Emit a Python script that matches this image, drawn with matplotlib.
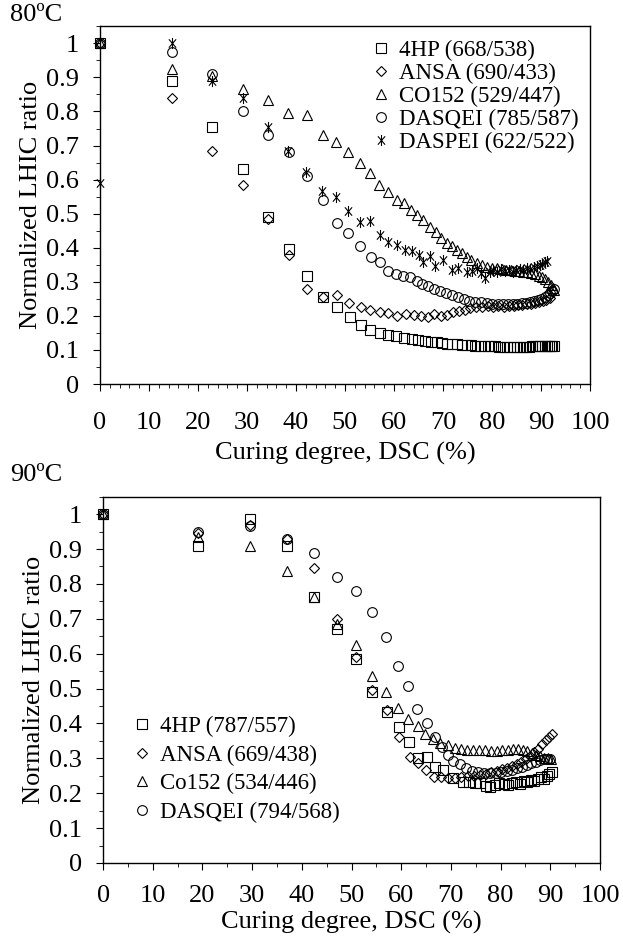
import numpy as np
import matplotlib
matplotlib.use("Agg")
import matplotlib.pyplot as plt
from matplotlib.path import Path
from matplotlib.ticker import MultipleLocator

plt.rcParams['font.family'] = ['Liberation Serif', 'DejaVu Serif']

# ---- 80 C panel data ----
hp80_x = [0, 14.7, 22.9, 29.2, 34.2, 38.5, 42.2, 45.6, 48.3, 51.0,
          53.2, 55.2, 57.1, 58.8, 60.5, 62.1, 63.6, 65.0, 66.3, 67.5,
          68.7, 69.8, 70.9, 71.9, 72.9, 73.9, 74.8, 75.7, 76.6, 77.5,
          78.3, 79.1, 79.9, 80.7, 81.5, 82.3, 83.0, 83.7, 84.4, 85.1,
          85.8, 86.4, 87.0, 87.6, 88.2, 88.8, 89.3, 89.8, 90.3, 90.8,
          91.2, 91.6, 92.0, 92.3, 92.6]
hp80_y = [1.0, 0.89, 0.755, 0.63, 0.49, 0.395, 0.318, 0.256, 0.226, 0.197,
          0.174, 0.16, 0.15, 0.145, 0.14, 0.136, 0.132, 0.129, 0.126, 0.124,
          0.122, 0.12, 0.119, 0.118, 0.117, 0.116, 0.115, 0.114, 0.113, 0.113,
          0.112, 0.112, 0.111, 0.111, 0.11, 0.11, 0.11, 0.11, 0.11, 0.11,
          0.11, 0.11, 0.11, 0.11, 0.111, 0.111, 0.111, 0.112, 0.112, 0.112,
          0.113, 0.113, 0.113, 0.113, 0.113]

ansa80_x = [0, 14.7, 22.9, 29.2, 34.2, 38.5, 42.2, 45.6, 48.4, 50.9,
            53.2, 55.2, 57.1, 58.8, 60.6, 62.4, 64.0, 65.5, 66.9, 68.2,
            69.5, 70.8, 72.0, 73.2, 74.4, 75.6, 76.8, 78.0, 79.1, 80.2,
            81.3, 82.4, 83.4, 84.4, 85.3, 86.2, 87.1, 88.0, 88.8, 89.6,
            90.4, 91.1, 91.8]
ansa80_y = [1.0, 0.84, 0.685, 0.585, 0.485, 0.38, 0.28, 0.256, 0.26, 0.237,
            0.226, 0.218, 0.211, 0.208, 0.199, 0.207, 0.203, 0.2, 0.198, 0.205,
            0.2, 0.204, 0.21, 0.213, 0.218, 0.222, 0.226, 0.225, 0.228, 0.226,
            0.228, 0.227, 0.23, 0.229, 0.232, 0.231, 0.234, 0.236, 0.238, 0.241,
            0.244, 0.248, 0.252]

co80_x = [0, 14.7, 22.9, 29.2, 34.3, 38.4, 42.3, 45.5, 48.2, 50.6,
          53.0, 55.1, 56.9, 58.8, 60.6, 62.0, 63.4, 64.7, 66.0, 67.3,
          68.5, 69.6, 70.8, 71.8, 72.8, 73.8, 74.8, 75.8, 76.9, 78.0,
          79.0, 80.0, 81.0, 82.0, 82.9, 83.8, 84.7, 85.6, 86.4, 87.2,
          88.0, 88.8, 89.5, 90.2, 90.9, 91.5, 92.0, 92.4, 92.6]
co80_y = [1.0, 0.926, 0.905, 0.866, 0.835, 0.795, 0.79, 0.73, 0.71, 0.68,
          0.65, 0.62, 0.585, 0.565, 0.54, 0.53, 0.512, 0.497, 0.482, 0.462,
          0.445, 0.43, 0.414, 0.404, 0.394, 0.384, 0.374, 0.364, 0.356, 0.35,
          0.345, 0.342, 0.34, 0.338, 0.336, 0.334, 0.333, 0.332, 0.33, 0.328,
          0.325, 0.322, 0.318, 0.313, 0.307, 0.3, 0.292, 0.283, 0.275]

qei80_x = [0, 14.7, 22.9, 29.2, 34.2, 38.5, 42.2, 45.5, 48.4, 50.7,
           53.1, 55.3, 57.1, 58.8, 60.5, 61.9, 63.3, 64.6, 65.8, 67.0,
           68.2, 69.4, 70.6, 71.8, 73.0, 74.2, 75.4, 76.6, 77.8, 79.0,
           80.1, 81.2, 82.3, 83.3, 84.3, 85.2, 86.1, 87.0, 87.8, 88.6,
           89.4, 90.1, 90.8, 91.4, 91.9, 92.3, 92.6]
qei80_y = [1.0, 0.975, 0.91, 0.80, 0.73, 0.68, 0.61, 0.54, 0.474, 0.442,
           0.406, 0.374, 0.357, 0.332, 0.323, 0.318, 0.313, 0.303, 0.295, 0.288,
           0.28, 0.274, 0.268, 0.262, 0.256, 0.25, 0.245, 0.242, 0.24, 0.237,
           0.236, 0.235, 0.235, 0.234, 0.235, 0.236, 0.237, 0.239, 0.241, 0.243,
           0.246, 0.25, 0.255, 0.26, 0.266, 0.272, 0.278]

pei80_x = [0, 14.7, 22.9, 29.2, 34.3, 38.4, 42.1, 45.4, 48.1, 50.7,
           53.1, 55.2, 57.1, 58.8, 60.6, 62.2, 63.6, 65.2, 65.9, 67.3,
           68.4, 70.0, 71.8, 73.0, 74.9, 76.0, 76.9, 77.8, 78.6, 79.5,
           80.3, 81.1, 81.9, 82.7, 83.5, 84.3, 85.0, 85.7, 86.4, 87.1,
           87.8, 88.5, 89.1, 89.7, 90.3, 90.8, 91.3]
pei80_y = [0.59, 1.0, 0.89, 0.84, 0.755, 0.685, 0.623, 0.568, 0.549, 0.509,
           0.477, 0.479, 0.438, 0.418, 0.409, 0.394, 0.39, 0.378, 0.358, 0.377,
           0.347, 0.365, 0.335, 0.34, 0.33, 0.333, 0.34, 0.325, 0.31, 0.33,
           0.335, 0.328, 0.338, 0.332, 0.336, 0.33, 0.334, 0.338, 0.335, 0.34,
           0.338, 0.343, 0.346, 0.35, 0.353, 0.357, 0.362]

# ---- 90 C panel data ----
hp90_x = [0, 19.1, 29.6, 37.0, 42.5, 47.1, 50.9, 54.2, 57.1, 59.6,
          61.5, 63.4, 65.2, 66.8, 68.4, 70.4, 72.4, 73.6, 74.8, 75.9,
          77.0, 77.9, 78.8, 79.7, 80.6, 81.5, 82.3, 83.1, 83.9, 84.7,
          85.4, 86.1, 86.8, 87.5, 88.1, 88.7, 89.3, 89.8, 90.3]
hp90_y = [1.0, 0.908, 0.985, 0.908, 0.763, 0.67, 0.586, 0.49, 0.432, 0.389,
          0.346, 0.302, 0.305, 0.276, 0.267, 0.244, 0.233, 0.232, 0.23, 0.228,
          0.222, 0.218, 0.224, 0.23, 0.226, 0.223, 0.228, 0.232, 0.227, 0.235,
          0.232, 0.238, 0.236, 0.24, 0.245, 0.242, 0.25, 0.255, 0.262]

ansa90_x = [0, 19.1, 29.6, 37.0, 42.5, 47.1, 50.9, 54.2, 57.1, 59.5,
            61.8, 63.4, 65.0, 66.6, 68.0, 69.4, 70.8, 72.1, 73.4, 74.6,
            75.8, 77.0, 78.1, 79.2, 80.3, 81.3, 82.3, 83.3, 84.2, 85.1,
            86.0, 86.8, 87.6, 88.4, 89.1, 89.8, 90.4]
ansa90_y = [1.0, 0.945, 0.97, 0.928, 0.846, 0.698, 0.59, 0.495, 0.438, 0.362,
            0.305, 0.287, 0.267, 0.247, 0.245, 0.243, 0.244, 0.246, 0.248, 0.25,
            0.253, 0.256, 0.26, 0.264, 0.268, 0.272, 0.277, 0.283, 0.29, 0.298,
            0.307, 0.317, 0.328, 0.34, 0.352, 0.362, 0.37]

co90_x = [0, 19.1, 29.6, 37.0, 42.5, 47.1, 50.9, 54.2, 57.0, 59.4,
          61.4, 63.3, 64.8, 66.4, 67.8, 69.4, 70.8, 72.0, 73.2, 74.4,
          75.6, 76.8, 78.0, 79.2, 80.3, 81.4, 82.5, 83.5, 84.5, 85.4,
          86.3, 87.2, 88.0, 88.8, 89.5, 90.1]
co90_y = [1.0, 0.935, 0.908, 0.836, 0.763, 0.684, 0.624, 0.537, 0.489, 0.444,
          0.412, 0.394, 0.37, 0.355, 0.345, 0.339, 0.33, 0.326, 0.325, 0.324,
          0.323, 0.323, 0.322, 0.322, 0.323, 0.324, 0.326, 0.328, 0.325, 0.32,
          0.315, 0.31, 0.306, 0.302, 0.3, 0.298]

qei90_x = [0, 19.1, 29.6, 37.0, 42.5, 47.1, 50.9, 54.2, 56.9, 59.4,
           61.4, 63.2, 65.1, 66.7, 68.2, 69.4, 70.4, 71.8, 73.0, 74.2,
           75.4, 76.6, 77.8, 79.0, 80.1, 81.2, 82.3, 83.3, 84.3, 85.3,
           86.2, 87.1, 87.9, 88.7, 89.4, 90.0]
qei90_y = [1.0, 0.948, 0.966, 0.928, 0.89, 0.82, 0.78, 0.72, 0.647, 0.566,
           0.508, 0.44, 0.40, 0.36, 0.333, 0.31, 0.292, 0.285, 0.272, 0.265,
           0.261, 0.258, 0.257, 0.258, 0.26, 0.263, 0.267, 0.271, 0.276, 0.281,
           0.286, 0.29, 0.294, 0.297, 0.299, 0.297]

labels80 = ['4HP (668/538)', 'ANSA (690/433)', 'CO152 (529/447)',
            'DASQEI (785/587)', 'DASPEI (622/522)']
labels90 = ['4HP (787/557)', 'ANSA (669/438)', 'Co152 (534/446)',
            'DASQEI (794/568)']
ytick_labels = ['0', '0.1', '0.2', '0.3', '0.4', '0.5', '0.6', '0.7', '0.8', '0.9', '1']

# asterisk: vertical bar plus an X
star = Path([(0, -1), (0, 1), (-0.65, -0.75), (0.65, 0.75), (-0.65, 0.75), (0.65, -0.75)],
            [Path.MOVETO, Path.LINETO] * 3)
markers = ['s', 'D', '^', 'o', star]
msizes = [6.5, 5, 6.5, 7, 8]

fig = plt.figure(figsize=(6.23, 9.39), dpi=100)
ax1 = fig.add_axes([0.1605, 0.591, 0.7865, 0.381])
ax2 = fig.add_axes([0.1655, 0.081, 0.7975, 0.390])

series80 = [(hp80_x, hp80_y), (ansa80_x, ansa80_y), (co80_x, co80_y),
            (qei80_x, qei80_y), (pei80_x, pei80_y)]
series90 = [(hp90_x, hp90_y), (ansa90_x, ansa90_y), (co90_x, co90_y),
            (qei90_x, qei90_y)]

for ax, series, labels in [(ax1, series80, labels80), (ax2, series90, labels90)]:
    for i, (xs, ys) in enumerate(series):
        ax.plot(xs, ys, linestyle='none', marker=markers[i], markersize=msizes[i],
                markerfacecolor='none', markeredgecolor='black', markeredgewidth=0.8,
                label=labels[i], clip_on=False)

    ax.set_xlim(0, 100)
    ax.set_ylim(0, 1.05)
    ax.xaxis.set_major_locator(MultipleLocator(10))
    ax.yaxis.set_minor_locator(MultipleLocator(0.05))
    ax.set_yticks(np.arange(0, 1.01, 0.1))
    ax.set_yticklabels(ytick_labels)
    ax.tick_params(axis='both', which='major', direction='out', length=5, width=0.8,
                   labelsize=19)
    ax.tick_params(axis='y', which='major', pad=10)
    ax.tick_params(axis='both', which='minor', direction='out', length=3, width=0.6)
    for s in ax.spines.values():
        s.set_linewidth(1.0)
    ax.set_ylabel('Normalized LHIC ratio', fontsize=19, labelpad=3)

ax1.tick_params(axis='x', which='major', pad=15)
ax2.tick_params(axis='x', which='major', pad=11)
ax1.set_xlabel('Curing degree, DSC (%)', fontsize=19, labelpad=6)
ax2.set_xlabel('Curing degree, DSC (%)', fontsize=19, labelpad=3)

ax1.xaxis.set_minor_locator(MultipleLocator(2))
ax2.xaxis.set_minor_locator(MultipleLocator(5))

ax1.legend(loc='upper left', bbox_to_anchor=(0.555, 0.962), frameon=False,
           fontsize=16.5, numpoints=1, handlelength=0.8, handletextpad=0.4,
           labelspacing=0.08, borderpad=0, borderaxespad=0)
ax2.legend(loc='upper left', bbox_to_anchor=(0.06, 0.402), frameon=False,
           fontsize=16.5, numpoints=1, handlelength=0.8, handletextpad=0.4,
           labelspacing=0.33, borderpad=0, borderaxespad=0)

fig.text(0.016, 0.984, '80ºC', fontsize=19, va='center', ha='left')
fig.text(0.016, 0.494, '90ºC', fontsize=19, va='center', ha='left')

fig.savefig('out.png', dpi=100)
